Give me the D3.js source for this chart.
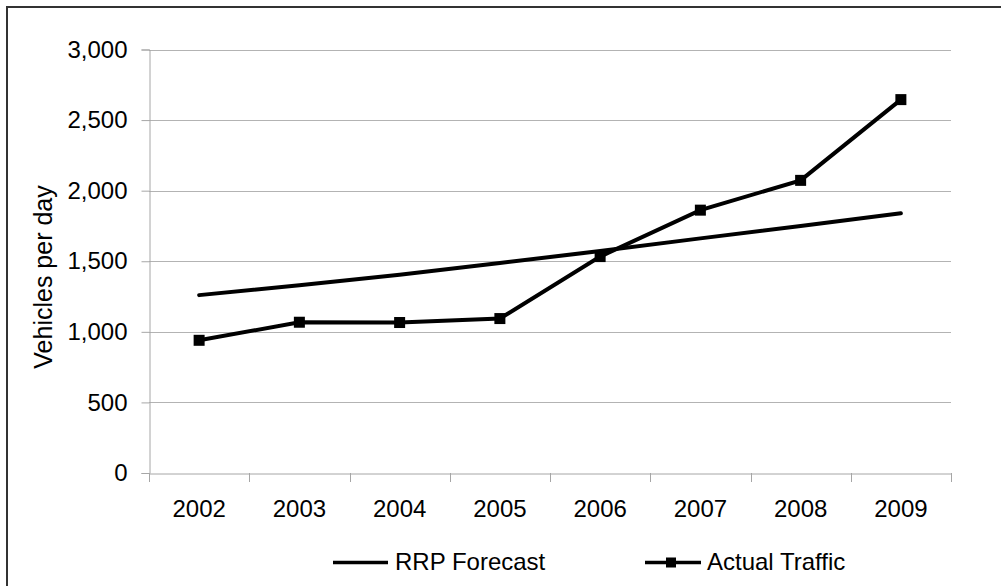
<!DOCTYPE html>
<html><head><meta charset="utf-8">
<script src="https://cdnjs.cloudflare.com/ajax/libs/d3/7.8.5/d3.min.js"></script>
<style>html,body{margin:0;padding:0;background:#fff;overflow:hidden}</style>
</head><body>
<svg id="c" width="1001" height="586"></svg>
<script>
const years = ["2002","2003","2004","2005","2006","2007","2008","2009"];
const forecast = [1260, 1330, 1405, 1488, 1572, 1662, 1750, 1840];
const actual = [940, 1068, 1066, 1094, 1533, 1862, 2073, 2645];
const yTicks = [0, 500, 1000, 1500, 2000, 2500, 3000];
const seriesNames = ["RRP Forecast", "Actual Traffic"];

const svg = d3.select("#c");
const font = "'Liberation Sans', Arial, sans-serif";

svg.append("rect").attr("x", 7).attr("y", 7).attr("width", 1200).attr("height", 800)
  .attr("fill", "none").attr("stroke", "#333").attr("stroke-width", 2);

const x = d3.scaleBand().domain(years).range([149, 951]);
const y = d3.scaleLinear().domain([0, 3000]).range([473, 49.5]);

// gridlines
svg.append("g").selectAll("line").data(yTicks.filter(d => d > 0)).join("line")
  .attr("x1", 149).attr("x2", 951)
  .attr("y1", d => Math.round(y(d)) + 0.5).attr("y2", d => Math.round(y(d)) + 0.5)
  .attr("stroke", "#b3b3b3").attr("stroke-width", 1);

// y axis
const ya = svg.append("g").attr("transform", "translate(149.5,0)")
  .call(d3.axisLeft(y).tickValues(yTicks).tickSize(8).tickPadding(14).tickFormat(d3.format(",")));
ya.select(".domain").attr("stroke", "#a6a6a6");
ya.selectAll(".tick line").attr("stroke", "#a6a6a6");
ya.selectAll(".tick text").attr("font-family", font).attr("font-size", 24).attr("fill", "#000");

// x axis
const xa = svg.append("g").attr("transform", "translate(0,473.5)")
  .call(d3.axisBottom(x).tickSize(0).tickPadding(0));
xa.select(".domain").attr("stroke", "#a6a6a6");
xa.selectAll(".tick text").attr("font-family", font).attr("font-size", 24).attr("fill", "#000")
  .attr("dy", null).attr("y", 43);
// tick marks at band boundaries
const bounds = years.map(d => x(d)).concat([x.range()[1]]);
svg.append("g").selectAll("line").data(bounds).join("line")
  .attr("x1", d => Math.round(d) + 0.5).attr("x2", d => Math.round(d) + 0.5)
  .attr("y1", 473).attr("y2", 482).attr("stroke", "#a6a6a6");

// y label
svg.append("text").attr("transform", "translate(52,277) rotate(-90)")
  .attr("text-anchor", "middle").attr("font-family", font).attr("font-size", 25)
  .text("Vehicles per day");

const cx = d => x(d) + x.bandwidth() / 2;
const line = d3.line().x((d, i) => cx(years[i])).y(d => y(d));

svg.append("path").datum(forecast).attr("d", line)
  .attr("fill", "none").attr("stroke", "#000").attr("stroke-width", 4).attr("stroke-linecap", "round");
svg.append("path").datum(actual).attr("d", line)
  .attr("fill", "none").attr("stroke", "#000").attr("stroke-width", 4);
const ms = 11;
svg.append("g").selectAll("rect").data(actual).join("rect")
  .attr("x", (d, i) => cx(years[i]) - ms / 2).attr("y", d => y(d) - ms / 2)
  .attr("width", ms).attr("height", ms).attr("fill", "#000");

// legend
const lg = svg.append("g");
lg.append("line").attr("x1", 333).attr("x2", 388).attr("y1", 562.5).attr("y2", 562.5)
  .attr("stroke", "#000").attr("stroke-width", 3.5);
lg.append("text").attr("x", 395).attr("y", 570).attr("font-family", font).attr("font-size", 24)
  .text(seriesNames[0]);
lg.append("line").attr("x1", 645).attr("x2", 701).attr("y1", 562.5).attr("y2", 562.5)
  .attr("stroke", "#000").attr("stroke-width", 3.5);
lg.append("rect").attr("x", 671 - 5).attr("y", 562.5 - 5).attr("width", 10).attr("height", 10).attr("fill", "#000");
lg.append("text").attr("x", 707).attr("y", 570).attr("font-family", font).attr("font-size", 24)
  .text(seriesNames[1]);
</script>
</body></html>
